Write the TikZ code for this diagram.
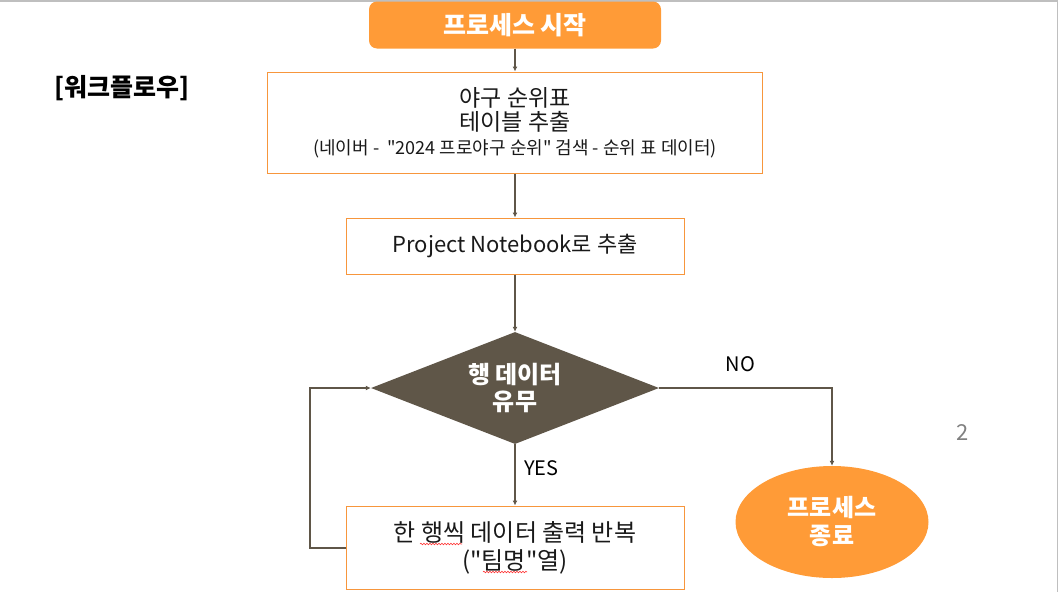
\documentclass[tikz,border=0pt]{standalone}
\usepackage{fontspec}
\setmainfont{Noto Sans CJK KR}[Ligatures=TeXOff]
\usetikzlibrary{positioning,shapes.geometric,arrows.meta,decorations.pathmorphing}
\definecolor{flowOrange}{HTML}{FF9B37}
\definecolor{flowBrown}{HTML}{5F5648}
\definecolor{boxLine}{HTML}{F7963C}
\begin{document}
\begin{tikzpicture}[x=1pt, y=-1pt, node distance=100pt, auto,
        terminal/.style={rectangle, fill=flowOrange, rounded corners=8pt, text=white, font=\fontsize{25}{28}\selectfont\bfseries, minimum width=292pt, minimum height=47pt, inner sep=0pt},
        block/.style={rectangle, draw=boxLine, line width=1pt, text=black!90, align=center, font=\fontsize{23}{24}\selectfont, inner sep=0pt},
        decision/.style={diamond, aspect=2.6, fill=flowBrown, text=white, align=center, font=\fontsize{24}{27}\selectfont\bfseries, minimum width=288pt, minimum height=112pt, inner sep=0pt},
        stopnode/.style={ellipse, fill=flowOrange, text=white, align=center, font=\fontsize{24}{28}\selectfont\bfseries, minimum width=193pt, minimum height=112pt, inner sep=0pt},
        link/.style={draw=flowBrown, line width=2pt, -{Latex[length=5pt,width=5pt]}},
        tag/.style={text=black, font=\fontsize{20}{24}\selectfont},
        spell/.style={draw=red!80, line width=0.6pt, decorate, decoration={snake, amplitude=0.8pt, segment length=3pt}}]
        % frame edges
        \useasboundingbox (0,0) rectangle (1059,592);
        \draw[black!25, line width=1.5pt] (0,0.75) -- (1057.5,0.75) -- (1057.5,592);
        % nodes
        \node[terminal] (start) at (515,25) {프로세스 시작};
        \node[block, below of=start, node distance=97.5pt, minimum width=495pt, minimum height=101pt] (table) {야구 순위표\\테이블 추출\\{\fontsize{18}{20}\selectfont (네이버 -~~"2024 프로야구 순위" 검색 - 순위 표 데이터)}};
        \node[block, below of=table, node distance=123.5pt, minimum width=338pt, minimum height=56pt, font=\fontsize{22}{24}\selectfont] (notebook) {Project Notebook로 추출};
        \node[decision, below of=notebook, node distance=142pt] (check) {행 데이터\\유무};
        \node[block, below of=check, node distance=159.5pt, minimum width=338pt, minimum height=83pt, font=\fontsize{24}{28}\selectfont] (loop) {한 행씩 데이터 출력 반복\\("팀명"열)};
        \node[stopnode] (stop) at (832,522) {프로세스\\종료};
        \node[font=\fontsize{25}{28}\selectfont\bfseries] (title) at (122,88) {[워크플로우]};
        \node[text=black!50, font=\fontsize{22}{24}\selectfont] (page) at (963,433) {2};
        % connectors
        \draw[link] (start) -- (table);
        \draw[link] (table) -- (notebook);
        \draw[link] (notebook) -- (check);
        \draw[link] (check) -- node[tag, right, pos=0.39, xshift=5pt] {YES} (loop);
        \draw[link] (check.east) -| node[tag, pos=0.235, above, yshift=12pt] {NO} (stop.north);
        \draw[link] (loop.west) -- ++(-36,0) |- (check.west);
        % spell check marks
        \draw[spell] (420,544) -- (462,544);
        \draw[spell] (483,572) -- (527,572);
    \end{tikzpicture}
\end{document}
